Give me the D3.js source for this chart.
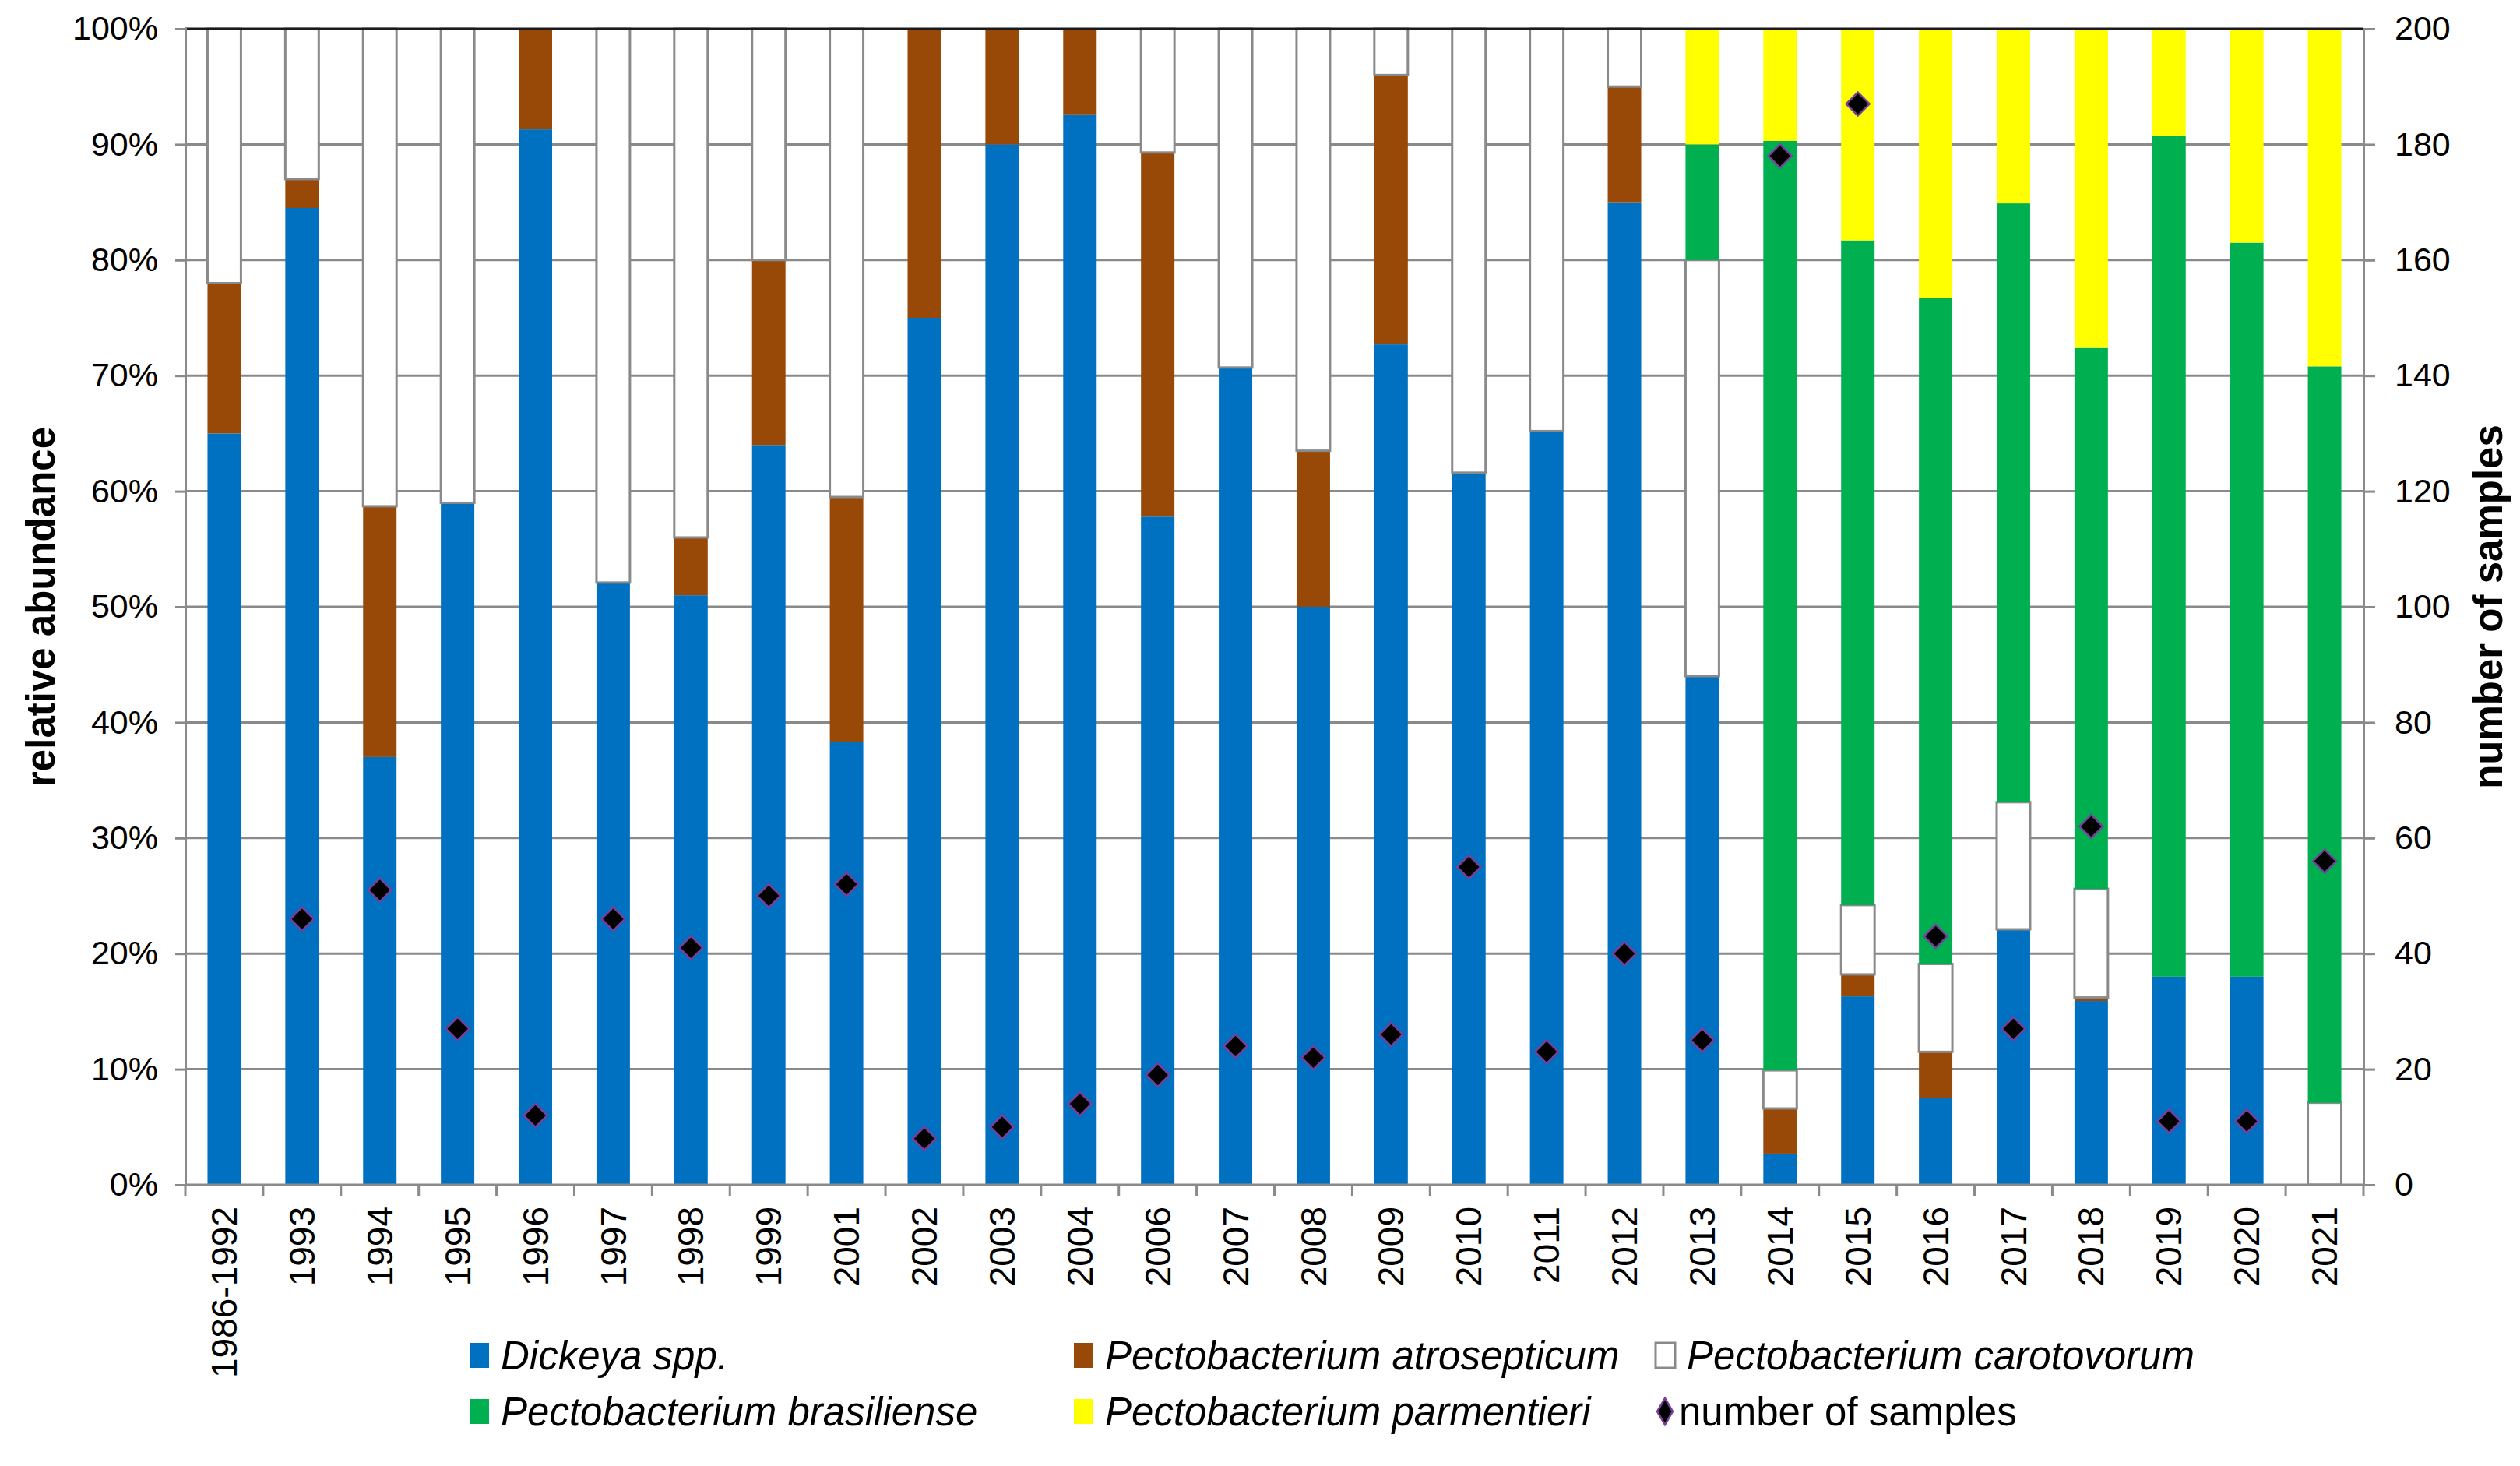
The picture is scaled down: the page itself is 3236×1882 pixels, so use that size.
<!DOCTYPE html>
<html>
<head>
<meta charset="utf-8">
<script src="https://cdn.jsdelivr.net/npm/d3@7"></script>
<style>
  html, body { margin: 0; padding: 0; background: #fff; }
  svg { display: block; }
  text { font-family: "Liberation Sans", Arial, sans-serif; fill: #000; }
</style>
</head>
<body>
<svg id="chart" width="3236" height="1882"></svg>
<script>
// ---------------- DATA ----------------
const categories = ["1986-1992","1993","1994","1995","1996","1997","1998","1999","2001","2002","2003","2004","2006","2007","2008","2009","2010","2011","2012","2013","2014","2015","2016","2017","2018","2019","2020","2021"];
const dickeya      = [65, 84.5, 37, 59, 91.3, 52.1, 51, 64, 38.3, 75, 90, 92.6, 57.8, 70.7, 50, 72.7, 61.6, 65.2, 85, 44, 2.7, 16.3, 7.5, 22.1, 15.9, 18, 18, 0];
const atrosepticum = [13, 2.5, 21.7, 0, 8.7, 0, 5, 16, 21.2, 25, 10, 7.4, 31.5, 0, 13.5, 23.3, 0, 0, 10, 0, 3.9, 1.9, 4, 0, 0.3, 0, 0, 0];
const carotovorum  = [22, 13, 41.3, 41, 0, 47.9, 44, 20, 40.5, 0, 0, 0, 10.7, 29.3, 36.5, 4, 38.4, 34.8, 5, 36, 3.3, 6, 7.6, 11, 9.4, 0, 0, 7.1];
const brasiliense  = [0, 0, 0, 0, 0, 0, 0, 0, 0, 0, 0, 0, 0, 0, 0, 0, 0, 0, 0, 10, 80.4, 57.5, 57.6, 51.8, 46.8, 72.7, 63.5, 63.7];
const parmentieri  = [0, 0, 0, 0, 0, 0, 0, 0, 0, 0, 0, 0, 0, 0, 0, 0, 0, 0, 0, 10, 9.7, 18.3, 23.3, 15.1, 27.6, 9.3, 18.5, 29.2];
const samples      = [null, 46, 51, 27, 12, 46, 41, 50, 52, 8, 10, 14, 19, 24, 22, 26, 55, 23, 40, 25, 178, 187, 43, 27, 62, 11, 11, 56];
const leftTicks  = [0,10,20,30,40,50,60,70,80,90,100];
const rightTicks = [0,20,40,60,80,100,120,140,160,180,200];

const seriesNames = ["Dickeya spp.","Pectobacterium atrosepticum","Pectobacterium carotovorum","Pectobacterium brasiliense","Pectobacterium parmentieri"];
const seriesKeys  = ["d","a","c","b","p"];
const seriesColors = {d:"#0070C0", a:"#984807", c:"#FFFFFF", b:"#00B050", p:"#FFFF00"};

// ---------------- LAYOUT ----------------
const svg = d3.select("#chart");
const L = 238, R = 3035, T = 37, B = 1521;
const gridColor = "#8a8a8a";

const x = d3.scaleBand().domain(categories).range([L, R]).paddingInner(0).paddingOuter(0);
const barW = x.bandwidth() * 0.43;
const y = d3.scaleLinear().domain([0, 100]).range([B, T]);
const y2 = d3.scaleLinear().domain([0, 200]).range([B, T]);

const rows = categories.map((c, i) => ({cat: c, d: dickeya[i], a: atrosepticum[i], c: carotovorum[i], b: brasiliense[i], p: parmentieri[i]}));
const stacked = d3.stack().keys(seriesKeys)(rows);

// gridlines
svg.append("g").selectAll("line").data(leftTicks.filter(t => t > 0 && t < 100)).join("line")
  .attr("x1", L).attr("x2", R).attr("y1", d => y(d)).attr("y2", d => y(d))
  .attr("stroke", gridColor).attr("stroke-width", 3);

// bars
const gBars = svg.append("g");
stacked.forEach(layer => {
  const key = layer.key;
  gBars.append("g").selectAll("rect").data(layer.filter(s => s[1] - s[0] > 0)).join("rect")
    .attr("x", s => x(s.data.cat) + (x.bandwidth() - barW) / 2)
    .attr("width", barW)
    .attr("y", s => y(s[1]))
    .attr("height", s => y(s[0]) - y(s[1]))
    .attr("fill", seriesColors[key])
    .attr("stroke", key === "c" ? gridColor : "none")
    .attr("stroke-width", key === "c" ? 3 : 0);
});

// top line (100%)
svg.append("line").attr("x1", L).attr("x2", R).attr("y1", y(100)).attr("y2", y(100))
  .attr("stroke", "#1a1a1a").attr("stroke-width", 3);

// left axis
const yAxis = d3.axisLeft(y).tickValues(leftTicks).tickSize(13).tickPadding(22).tickFormat(d => d + "%");
const gy = svg.append("g").attr("transform", `translate(${L},0)`).call(yAxis);
gy.select(".domain").attr("stroke", gridColor).attr("stroke-width", 3);
gy.selectAll(".tick line").attr("stroke", gridColor).attr("stroke-width", 3);
gy.selectAll(".tick text").style("font-size", "43px").style("font-family", "Liberation Sans, Arial, sans-serif").attr("fill", "#000");

// right axis
const y2Axis = d3.axisRight(y2).tickValues(rightTicks).tickSize(15).tickPadding(25);
const gy2 = svg.append("g").attr("transform", `translate(${R},0)`).call(y2Axis);
gy2.select(".domain").attr("stroke", gridColor).attr("stroke-width", 3);
gy2.selectAll(".tick line").attr("stroke", gridColor).attr("stroke-width", 3);
gy2.selectAll(".tick text").style("font-size", "43px").style("font-family", "Liberation Sans, Arial, sans-serif").attr("fill", "#000");

// bottom axis line and ticks at category boundaries
svg.append("line").attr("x1", L).attr("x2", R).attr("y1", B).attr("y2", B)
  .attr("stroke", gridColor).attr("stroke-width", 3);
const boundaries = categories.map(c => x(c)).concat([x(categories[categories.length - 1]) + x.bandwidth()]);
svg.append("g").selectAll("line").data(boundaries).join("line")
  .attr("x1", d => d).attr("x2", d => d).attr("y1", B).attr("y2", B + 14)
  .attr("stroke", gridColor).attr("stroke-width", 3);

// x labels
svg.append("g").selectAll("text").data(categories).join("text")
  .attr("transform", d => `translate(${x(d) + x.bandwidth() / 2},${B + 28}) rotate(-90)`)
  .attr("text-anchor", "end").attr("dy", "0.35em")
  .style("font-size", "46px")
  .text(d => d);

// diamonds
const diamond = d3.symbol().type(d3.symbolSquare).size(450);
svg.append("g").selectAll("path").data(categories.map((c, i) => ({cat: c, v: samples[i]})).filter(d => d.v != null)).join("path")
  .attr("d", diamond)
  .attr("transform", d => `translate(${x(d.cat) + x.bandwidth() / 2},${y2(d.v)}) rotate(45)`)
  .attr("fill", "#000").attr("stroke", "#7a3e9d").attr("stroke-width", 2.5);

// axis titles
svg.append("text").attr("transform", `translate(52,${(T + B) / 2}) rotate(-90)`)
  .attr("text-anchor", "middle").attr("dy", "0.35em")
  .style("font-size", "51px").style("font-weight", "bold").text("relative abundance");
svg.append("text").attr("transform", `translate(3195,${(T + B) / 2}) rotate(-90)`)
  .attr("text-anchor", "middle").attr("dy", "0.35em")
  .style("font-size", "51px").style("font-weight", "bold").text("number of samples");

// legend
const legendItems = [
  {name: seriesNames[0], key: "d", col: 0, row: 0},
  {name: seriesNames[1], key: "a", col: 1, row: 0},
  {name: seriesNames[2], key: "c", col: 2, row: 0},
  {name: seriesNames[3], key: "b", col: 0, row: 1},
  {name: seriesNames[4], key: "p", col: 1, row: 1},
  {name: "number of samples", key: "n", col: 2, row: 1}
];
const colX = [603, 1379, 2126];
const rowY = [1740, 1812];
const lg = svg.append("g").selectAll("g").data(legendItems).join("g")
  .attr("transform", d => `translate(${colX[d.col]},${rowY[d.row]})`);
lg.filter(d => d.key !== "n").append("rect")
  .attr("x", 0).attr("y", -16).attr("width", 25).attr("height", 32)
  .attr("fill", d => seriesColors[d.key])
  .attr("stroke", d => d.key === "c" ? gridColor : "none")
  .attr("stroke-width", d => d.key === "c" ? 3 : 0);
lg.filter(d => d.key === "n").append("path")
  .attr("d", "M12,-17 L22,0 L12,17 L2,0 Z")
  .attr("fill", "#000").attr("stroke", "#7a3e9d").attr("stroke-width", 2.5);
lg.append("text").attr("x", d => d.key === "n" ? 30 : 40).attr("dy", "0.35em")
  .style("font-size", "51px")
  .style("font-style", d => d.key === "n" ? "normal" : "italic")
  .text(d => d.name);
</script>
</body>
</html>
